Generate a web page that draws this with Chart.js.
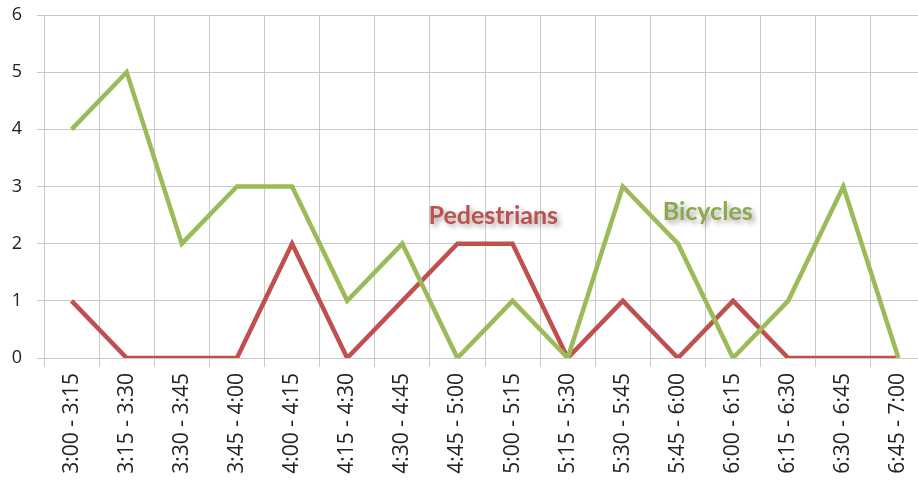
<!DOCTYPE html>
<html>
<head>
<meta charset="utf-8">
<script src="https://cdn.jsdelivr.net/npm/chart.js@4/dist/chart.umd.min.js"></script>
<style>
  html, body { margin: 0; padding: 0; background: #fff; overflow: hidden; }
  #wrap { position: relative; width: 926px; height: 482px; }
</style>
</head>
<body>
<div id="wrap"><canvas id="chart"></canvas></div>
<script>
const timeSlots = [
  "3:00 - 3:15", "3:15 - 3:30", "3:30 - 3:45", "3:45 - 4:00",
  "4:00 - 4:15", "4:15 - 4:30", "4:30 - 4:45", "4:45 - 5:00",
  "5:00 - 5:15", "5:15 - 5:30", "5:30 - 5:45", "5:45 - 6:00",
  "6:00 - 6:15", "6:15 - 6:30", "6:30 - 6:45", "6:45 - 7:00",
];
const bicycles = [4, 5, 2, 3, 3, 1, 2, 0, 1, 0, 3, 2, 0, 1, 3, 0];
const pedestrians = [1, 0, 0, 0, 2, 0, 1, 2, 2, 0, 1, 0, 1, 0, 0, 0];
const yTicks = [0, 1, 2, 3, 4, 5, 6];

const GREEN = "#9bbb59";
const RED = "#c0504d";
const GRID = "#c9c9c9";
const FONT = "'Open Sans', Lato, sans-serif";

// series names written inside the plot, anchored in data units
const seriesLabels = [
  { text: "Pedestrians", x: 7.65, y: 2.48, color: RED },
  { text: "Bicycles", x: 11.54, y: 2.55, color: "#8aaa4c" },
];

const labelPlugin = {
  id: "seriesLabels",
  afterDatasetsDraw(chart) {
    const { ctx, scales } = chart;
    ctx.save();
    ctx.font = "bold 25px Lato, 'Open Sans', sans-serif";
    ctx.textAlign = "center";
    ctx.textBaseline = "middle";
    seriesLabels.forEach((l) => {
      ctx.shadowColor = "rgba(0,0,0,0.35)";
      ctx.shadowBlur = 5;
      ctx.shadowOffsetX = 3;
      ctx.shadowOffsetY = 3;
      ctx.fillStyle = l.color;
      ctx.fillText(l.text, scales.x.getPixelForValue(l.x), scales.y.getPixelForValue(l.y));
    });
    ctx.restore();
  },
};

new Chart(document.getElementById("chart"), {
  type: "line",
  data: {
    labels: timeSlots,
    datasets: [
      {
        label: "Bicycles",
        data: bicycles,
        borderColor: GREEN,
        borderWidth: 4.5,
        pointRadius: 0,
        tension: 0,
        borderJoinStyle: "miter",
      },
      {
        label: "Pedestrians",
        data: pedestrians,
        borderColor: RED,
        borderWidth: 4.5,
        pointRadius: 0,
        tension: 0,
        borderJoinStyle: "miter",
      },
    ],
  },
  options: {
    responsive: true,
    maintainAspectRatio: false,
    animation: false,
    layout: { padding: { top: 15, right: 0, left: 0, bottom: 0 } },
    plugins: {
      legend: { display: false },
      tooltip: { enabled: false },
    },
    scales: {
      x: {
        offset: true,
        grid: { offset: true, color: GRID, lineWidth: 1, tickLength: 9 },
        border: { color: GRID },
        ticks: {
          minRotation: 90,
          maxRotation: 90,
          padding: 6,
          color: "#222",
          font: { family: FONT, size: 21 },
        },
        afterFit: (s) => { s.height = 124; s.paddingLeft = 0; s.paddingRight = 0; },
      },
      y: {
        min: 0,
        max: 6,
        afterBuildTicks: (s) => { s.ticks = yTicks.map((v) => ({ value: v })); },
        grid: { color: GRID, lineWidth: 1, tickLength: 7 },
        border: { color: GRID },
        ticks: {
          padding: 15,
          color: "#222",
          font: { family: FONT, size: 18 },
        },
        afterFit: (s) => { s.width = 44; s.paddingTop = 0; s.paddingBottom = 0; },
      },
    },
  },
  plugins: [labelPlugin],
});
</script>
</body>
</html>
